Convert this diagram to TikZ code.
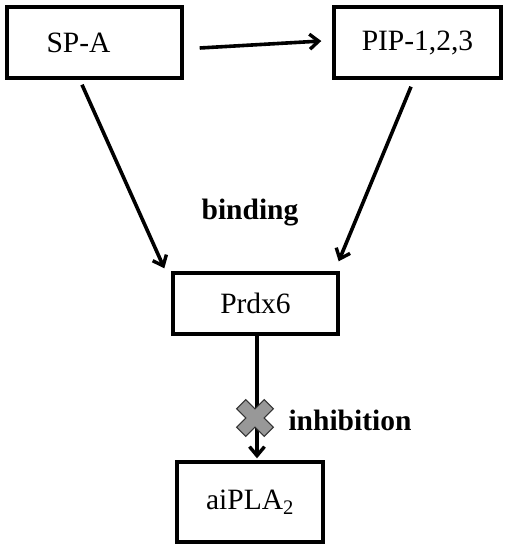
\documentclass[tikz,border=0pt]{standalone}
\usepackage{fontspec}
\setmainfont{Liberation Serif}
\usetikzlibrary{arrows.meta}
\begin{document}
\begin{tikzpicture}[x=1pt,y=-1pt,
  box/.style={draw, line width=3.4pt, rectangle, inner sep=0pt, font=\fontsize{29.5}{33}\selectfont},
  lbl/.style={font=\fontsize{29.5}{33}\selectfont\bfseries, inner sep=0pt},
  conn/.style={line width=3.6pt, -{Straight Barb[length=9pt,width=15pt,line width=3.4pt]}}]
\useasboundingbox (0,0) rectangle (510,550);
\node[box, minimum width=175pt, minimum height=71pt] (spa) at (94.5,42.5) {\raisebox{-3pt}{SP-A}\hspace*{32pt}};
\node[box, minimum width=167pt, minimum height=71pt] (pip) at (417.5,42.5) {PIP-1,2,3};
\node[box, minimum width=165pt, minimum height=61pt] (prdx) at (255.5,303.5) {Prdx6};
\node[box, minimum width=146pt, minimum height=80pt] (ai) at (250,502) {aiPLA\textsubscript{2}};
\node[lbl] (bind) at (250,213) {binding};
\node[lbl] (inh) at (350,420) {inhibition};
\draw[conn] ([xshift=16pt,yshift=-5.5pt]spa.east) -- ([xshift=-11pt,yshift=1.5pt]pip.west);
\draw[conn] ([xshift=-12.5pt,yshift=-5pt]spa.south) -- ([xshift=-7pt,yshift=3pt]prdx.north west);
\draw[conn] ([xshift=-6.5pt,yshift=-7pt]pip.south) -- ([xshift=-1pt,yshift=10pt]prdx.north east);
\draw[conn] ([xshift=1.5pt]prdx.south) -- ([xshift=7pt,yshift=2pt]ai.north);
\coordinate (cross) at (255,418);
\begin{scope}[shift={(cross)}, rotate=45]
\filldraw[fill=gray!85!black!70, draw=gray!40!black, line width=1pt]
 (-19.5,-6.5)--(-6.5,-6.5)--(-6.5,-19.5)--(6.5,-19.5)--(6.5,-6.5)--(19.5,-6.5)--(19.5,6.5)--(6.5,6.5)--(6.5,19.5)--(-6.5,19.5)--(-6.5,6.5)--(-19.5,6.5)--cycle;
\end{scope}
\end{tikzpicture}
\end{document}
